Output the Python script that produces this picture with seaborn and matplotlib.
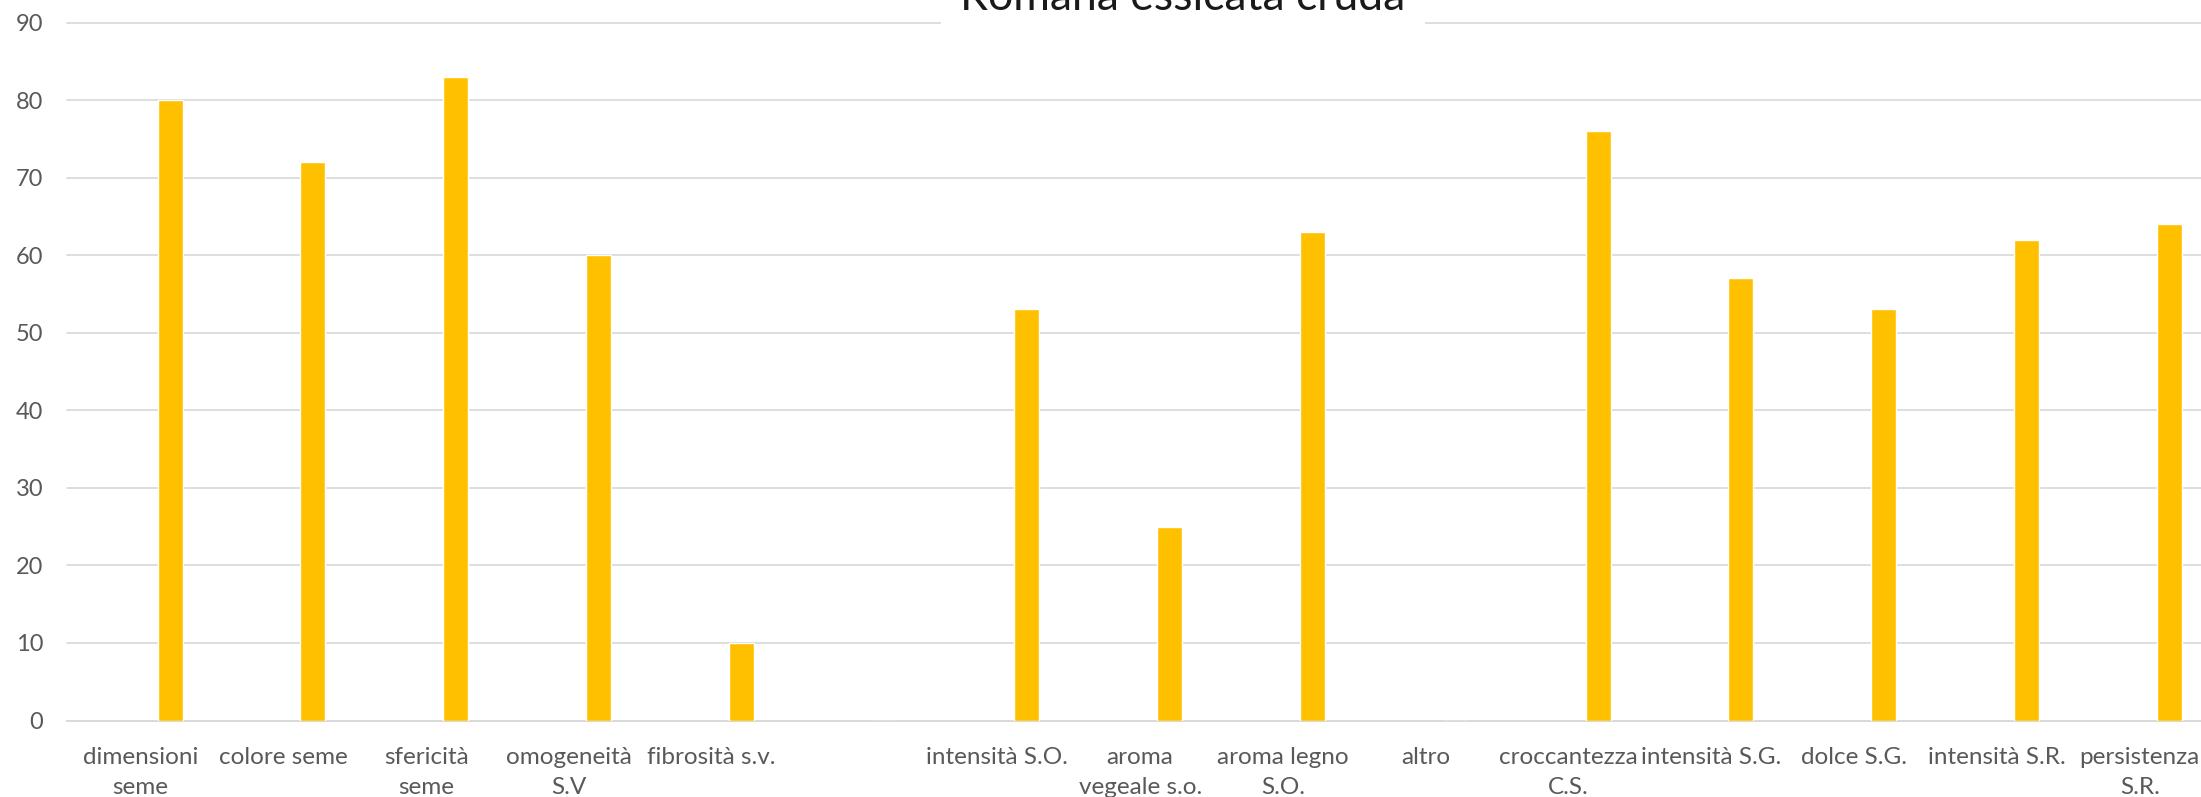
import matplotlib
matplotlib.use("Agg")
import matplotlib.pyplot as plt
import seaborn as sns
import pandas as pd
import numpy as np

# Sensory attributes and panel scores
categories = [
    "dimensioni\nseme", "colore seme", "sfericità\nseme", "omogeneità\nS.V",
    "fibrosità s.v.", " ", "intensità S.O.", "aroma\nvegeale s.o.",
    "aroma legno\nS.O.", "altro", "croccantezza\nC.S.", "intensità S.G.",
    "dolce S.G.", "intensità S.R.", "persistenza\nS.R.",
]
values = [80, 72, 83, 60, 10, 0, 53, 25, 63, 0, 76, 57, 53, 62, 64]
y_ticks = [0, 10, 20, 30, 40, 50, 60, 70, 80, 90]
title = "Romana essicata cruda"

# Clustered layout: an empty companion series sits left of the scored one
series = ["vuota", "Romana essicata cruda"]
df = pd.DataFrame({
    "attributo": categories * 2,
    "serie": [series[0]] * len(categories) + [series[1]] * len(categories),
    "punteggio": [np.nan] * len(categories) + values,
})

sns.set_theme(style="white")
plt.rcParams["font.family"] = ["Lato", "DejaVu Sans"]

W, H, DPI = 2201, 797, 100
fig = plt.figure(figsize=(W / DPI, H / DPI), dpi=DPI)
ax_left = 67 / W
ax_bottom = (H - 720.5) / H
ax_top = (H - 22.5) / H
ax = fig.add_axes([ax_left, ax_bottom, 1.0 - ax_left, ax_top - ax_bottom])

sns.barplot(data=df, x="attributo", y="punteggio", hue="serie",
            order=categories, hue_order=series,
            palette=["#5B9BD5", "#FFC000"], width=0.828, gap=0.577,
            saturation=1, legend=False, ax=ax, zorder=3)

grid_c = "#D9D9D9"
ax.set_ylim(0, 90)
ax.set_yticks(y_ticks)
ax.set_yticklabels([str(v) for v in y_ticks])
ax.set_xlim(-0.515, 14.429)
ax.yaxis.grid(True, color=grid_c, linewidth=1.25, zorder=0)
for gl in ax.yaxis.get_gridlines():
    gl.set_clip_on(False)
ax.set_axisbelow(True)

for s in ["top", "right", "left"]:
    ax.spines[s].set_visible(False)
ax.spines["bottom"].set_color(grid_c)
ax.spines["bottom"].set_linewidth(1.25)

ax.set_xlabel("")
ax.set_ylabel("")
ax.tick_params(axis="y", length=0, pad=17, labelsize=17, labelcolor="#595959")
ax.tick_params(axis="x", length=0, pad=19, labelsize=17.5, labelcolor="#595959")
for lab in ax.get_xticklabels():
    lab.set_linespacing(1.55)
    lab.set_verticalalignment("top")

fig.text(1183 / W, (H - 10) / H, title, ha="center", va="baseline",
         fontsize=32, color="#1a1a1a",
         bbox=dict(facecolor="white", edgecolor="none", pad=14))

fig.savefig("out.png", dpi=DPI, facecolor="white")
